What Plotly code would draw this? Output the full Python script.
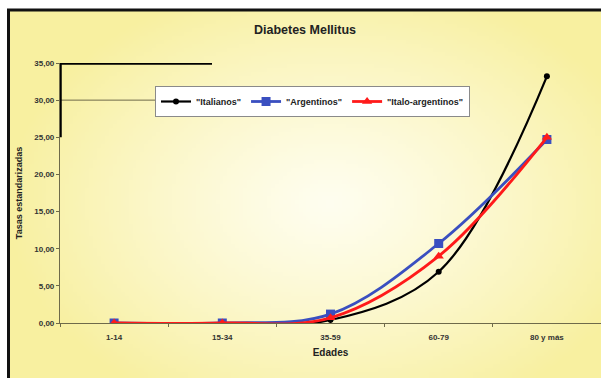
import base64, struct, zlib
import numpy as np
import plotly.graph_objects as go

categorias = ["1-14", "15-34", "35-59", "60-79", "80 y más"]
italianos = [0.0, 0.0, 0.4, 6.9, 33.2]
argentinos = [0.0, 0.0, 1.2, 10.7, 24.7]
italo_argentinos = [0.0, 0.0, 0.7, 9.0, 25.0]
y_ticks = [0, 5, 10, 15, 20, 25, 30, 35]

W, H = 601, 378
ML, MR, MT, MB = 60, 0, 63, 55
PW, PH = W - ML - MR, H - MT - MB


def px_x(px):
    return (px - ML) / PW


def px_y(py):
    return (H - MB - py) / PH


def gradient_png(w, h):
    yy, xx = np.mgrid[0:h, 0:w]
    cx, cy = 0.54 * w, 0.52 * h
    r = np.sqrt(((xx - cx) / (0.55 * w)) ** 2 + ((yy - cy) / (0.62 * h)) ** 2)
    t = np.clip(r, 0, 1) ** 1.2
    edge = np.array([248, 240, 160], float)
    center = np.array([255, 254, 240], float)
    img = center[None, None, :] * (1 - t[..., None]) + edge[None, None, :] * t[..., None]
    img = img.astype(np.uint8)
    raw = b"".join(b"\x00" + img[i].tobytes() for i in range(h))

    def chunk(tag, data):
        c = struct.pack(">I", len(data)) + tag + data
        return c + struct.pack(">I", zlib.crc32(tag + data) & 0xffffffff)

    png = b"\x89PNG\r\n\x1a\n" + chunk(b"IHDR", struct.pack(">IIBBBBB", w, h, 8, 2, 0, 0, 0))
    png += chunk(b"IDAT", zlib.compress(raw, 9)) + chunk(b"IEND", b"")
    return "data:image/png;base64," + base64.b64encode(png).decode()


fig = go.Figure()
fig.add_trace(go.Scatter(x=categorias, y=italianos, name='"Italianos"', mode="lines+markers",
                         line=dict(color="#000000", width=2.2, shape="spline"),
                         marker=dict(symbol="circle", size=6, color="#000000")))
fig.add_trace(go.Scatter(x=categorias, y=argentinos, name='"Argentinos"', mode="lines+markers",
                         line=dict(color="#3a4fc0", width=2.8, shape="spline"),
                         marker=dict(symbol="square", size=9, color="#3a4fc0")))
fig.add_trace(go.Scatter(x=categorias, y=italo_argentinos, name='"Italo-argentinos"', mode="lines+markers",
                         line=dict(color="#ff1a1a", width=2.8, shape="spline"),
                         marker=dict(symbol="triangle-up", size=9, color="#ff1a1a")))

axis_col = "#6e6a4a"
tick_font = dict(size=8, color="#333333", weight="bold")
fig.update_layout(
    width=W, height=H,
    margin=dict(l=ML, r=MR, t=MT, b=MB),
    paper_bgcolor="#ffffff",
    plot_bgcolor="rgba(0,0,0,0)",
    separators=",.",
    font=dict(family="Liberation Sans, Arial, sans-serif", size=8, color="#222222"),
    title=dict(text="<b>Diabetes Mellitus</b>", x=305 / W, xanchor="center",
               y=1 - 30 / H, yanchor="middle", font=dict(size=12.5, color="#222222")),
    xaxis=dict(range=[-0.5, 4.5], showgrid=False, showline=True, linecolor=axis_col, linewidth=1.2,
               ticks="outside", tickson="boundaries", ticklen=3, tickcolor=axis_col,
               tickfont=tick_font, ticklabelstandoff=6, zeroline=False,
               title=dict(text="<b>Edades</b>", font=dict(size=10, color="#222222"), standoff=8)),
    yaxis=dict(range=[0, 35], tickvals=y_ticks, tickformat=".2f", showgrid=False, showline=True,
               linecolor=axis_col, linewidth=1.2, ticks="outside", ticklen=3, tickcolor=axis_col,
               tickfont=tick_font, zeroline=False,
               title=dict(text="<b>Tasas estandarizadas</b>", font=dict(size=9, color="#222222"), standoff=10)),
    legend=dict(orientation="h", x=px_x(155), y=px_y(86), xanchor="left", yanchor="top",
                bgcolor="#ffffff", bordercolor="#8a8a8a", borderwidth=1,
                font=dict(size=9, color="#222222", weight="bold"), itemwidth=30, tracegroupgap=0),
    showlegend=True,
)

fig.add_layout_image(dict(source=gradient_png(150, 92), xref="paper", yref="paper",
                          x=px_x(8), y=px_y(10), sizex=(W - 8) / PW, sizey=(H - 10) / PH,
                          xanchor="left", yanchor="top", sizing="stretch", layer="below"))

# frame borders
fig.add_shape(type="line", xref="paper", yref="paper", x0=px_x(7), x1=px_x(W + 2),
              y0=px_y(10), y1=px_y(10), line=dict(color="#111111", width=3), layer="above")
fig.add_shape(type="line", xref="paper", yref="paper", x0=px_x(8.5), x1=px_x(8.5),
              y0=px_y(10), y1=px_y(H + 2), line=dict(color="#111111", width=3), layer="above")
# gridline at 30 (visible only left of legend)
fig.add_shape(type="line", xref="x", yref="y", x0=-0.5, x1=px_x(155) * 5 - 0.5, y0=30, y1=30,
              line=dict(color=axis_col, width=1), layer="below")
# thick black stroke along the top-left of the plot
fig.add_shape(type="path", xref="x", yref="y",
              path="M -0.5,25 L -0.5,35 L %f,35" % (px_x(212) * 5 - 0.5),
              line=dict(color="#000000", width=3.5), layer="above")

fig.write_html("out.html")
